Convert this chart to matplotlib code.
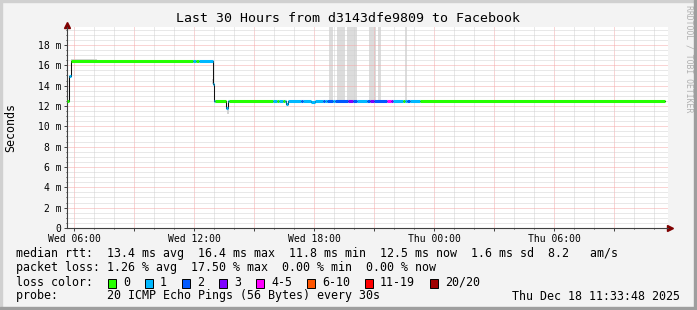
import matplotlib
matplotlib.use("Agg")
import matplotlib.pyplot as plt
from matplotlib.patches import Rectangle
import numpy as np

plt.rcParams['font.family'] = ['DejaVu Sans Mono']

W, H = 697, 310

# median rtt in ms, step value that starts at each time (hours since Wed 00:00)
rtt_t = [5.65, 5.75, 5.825, 12.925, 13.0, 13.6, 13.7, 16.6, 16.7, 17.85, 18.05, 35.55]
rtt_ms = [12.5, 14.9, 16.4, 14.2, 12.5, 11.8, 12.5, 12.2, 12.5, 12.35, 12.5, 12.5]

# packet loss level (index into loss colours) starting at each time
loss_t = [5.65, 5.75, 5.825, 11.95, 12.1, 12.25, 13.025, 13.6, 13.725,
          15.95, 16.15, 16.25, 16.45, 16.55, 17.35, 17.45, 18.45, 18.55,
          18.65, 18.95, 19.05, 19.7, 19.95, 20.15, 20.65, 20.8, 21.0,
          21.65, 21.85, 21.95, 22.45, 22.55, 22.65, 22.8, 23.3]
loss_lvl = [0, 1, 0, 1, 0, 1, 0, 1, 0,
            1, 0, 1, 0, 1, 2, 1, 2, 1,
            2, 1, 2, 3, 2, 1, 2, 3, 2,
            4, 3, 1, 0, 1, 2, 1, 0]

# smoke (spread of the pings)
smoke_t0 = [5.85, 12.9, 13.65, 18.75, 19.15, 19.65, 20.75, 21.2, 22.55]
smoke_t1 = [7.15, 13.0, 13.725, 18.95, 19.55, 20.15, 21.1, 21.35, 22.65]
smoke_lo = [16.4, 14.2, 11.2, 12.5, 12.5, 12.5, 12.5, 12.5, 12.5]
smoke_hi = [16.62, 14.6, 11.8, 21, 21, 21, 21, 21, 21]

loss_colors = ['#26ff00', '#00b8ff', '#0059ff', '#7e00ff', '#ff00ff', '#ff5500', '#ff0000', '#a00000']
loss_labels = ['0', '1', '2', '3', '4-5', '6-10', '11-19', '20/20']

xtick_hours = [6, 12, 18, 24, 30]
xtick_labels = ['Wed 06:00', 'Wed 12:00', 'Wed 18:00', 'Thu 00:00', 'Thu 06:00']
ytick_vals = [0, 2, 4, 6, 8, 10, 12, 14, 16, 18]
ytick_labels = ['0', '2 m', '4 m', '6 m', '8 m', '10 m', '12 m', '14 m', '16 m', '18 m']


def fx(px):
    return px / W


def fy(py):
    return 1 - py / H


fig = plt.figure(figsize=(W / 100, H / 100), dpi=100, facecolor='#f3f3f3')
ax = fig.add_axes([fx(67), fy(228), (668 - 67) / W, (228 - 27) / H])
ax.set_facecolor('white')

# smoke
for a, b, lo, hi in zip(smoke_t0, smoke_t1, smoke_lo, smoke_hi):
    shade = '#dcdcdc' if hi > 20 else '#d4d4d4'
    ax.fill_between([a, b], lo, hi, color=shade, lw=0, zorder=1)

# thin black median, then colored by loss
ax.step(rtt_t, rtt_ms, where='post', color='#111111', lw=0.75, zorder=2.5)


def median_at(t):
    i = np.searchsorted(rtt_t, t, side='right') - 1
    return rtt_ms[i]


ends = loss_t[1:] + [rtt_t[-1]]
for t0, t1, lvl in zip(loss_t, ends, loss_lvl):
    cuts = [t0] + [t for t in rtt_t if t0 < t < t1] + [t1]
    for a, b in zip(cuts[:-1], cuts[1:]):
        ax.hlines(median_at(a), a, b, colors=loss_colors[lvl], lw=2.2, zorder=3)

ax.set_xlim(5.65, 35.7)
ax.set_ylim(0, 19.76)

# x axis: red every 3h, gray every 1h, label every 6h
maj = np.arange(6, 36, 3)
ax.set_xticks(maj)
ax.set_xticklabels([xtick_labels[xtick_hours.index(h)] if h in xtick_hours else '' for h in maj])
ax.set_xticks(np.arange(6, 36, 1), minor=True)
ax.set_yticks(ytick_vals)
ax.set_yticklabels(ytick_labels)
ax.set_yticks(np.arange(0, 19.76, 0.5), minor=True)

ax.grid(which='major', color='#f4aaaa', lw=0.72, ls=(0, (1, 1)))
ax.grid(which='minor', color='#d2d2d2', lw=0.72, ls=(0, (1, 1)))
ax.tick_params(which='major', length=2, width=0.7, color='#404040', pad=2.2, labelsize=7)
ax.tick_params(which='minor', length=1, width=0.7, color='#404040')

for s in ['top', 'right']:
    ax.spines[s].set_visible(False)
for s in ['left', 'bottom']:
    ax.spines[s].set_color('#404040')
    ax.spines[s].set_linewidth(0.8)

ax.plot([1.004], [0], marker='>', ms=4, color='#7f0000', transform=ax.transAxes, clip_on=False)
ax.plot([0], [1.012], marker='^', ms=4, color='#7f0000', transform=ax.transAxes, clip_on=False)

# titles and side texts
fig.text(fx(348), fy(19), 'Last 30 Hours from d3143dfe9809 to Facebook',
         ha='center', va='center', fontsize=9.5)
fig.text(fx(11), fy(127), 'Seconds', rotation=90, ha='center', va='center', fontsize=8.4)
fig.text(fx(689), fy(5), 'RRDTOOL / TOBI OETIKER', rotation=270, ha='center', va='top',
         fontsize=5.9, color='#b0b0b0')

# legend
fs = 8.4
fig.text(fx(16), fy(254), 'median rtt:  13.4 ms avg  16.4 ms max  11.8 ms min  12.5 ms now  1.6 ms sd  8.2   am/s',
         va='center', fontsize=fs)
fig.text(fx(16), fy(268), 'packet loss: 1.26 % avg  17.50 % max  0.00 % min  0.00 % now',
         va='center', fontsize=fs)
fig.text(fx(16), fy(282), 'loss color:', va='center', fontsize=fs)
x = 108
for col, lab in zip(loss_colors, loss_labels):
    fig.add_artist(Rectangle((fx(x), fy(288)), 8 / W, 9 / H, facecolor=col,
                             edgecolor='black', lw=0.7, transform=fig.transFigure))
    fig.text(fx(x + 15), fy(282), lab, va='center', fontsize=fs)
    x += 15 + 7 * len(lab) + 15
fig.text(fx(16), fy(296), 'probe:       20 ICMP Echo Pings (56 Bytes) every 30s',
         va='center', fontsize=fs)
fig.text(fx(680), fy(296), 'Thu Dec 18 11:33:48 2025', ha='right', va='center', fontsize=fs)

# frame around the image
fig.add_artist(Rectangle((0, 1 - 2 / H), 1, 2 / H, color='#d0d0d0', transform=fig.transFigure))
fig.add_artist(Rectangle((0, 0), 2 / W, 1, color='#d0d0d0', transform=fig.transFigure))
fig.add_artist(Rectangle((0, 0), 1, 3 / H, color='#9e9e9e', transform=fig.transFigure))
fig.add_artist(Rectangle((1 - 3 / W, 0), 3 / W, 1, color='#9e9e9e', transform=fig.transFigure))

fig.savefig('out.png', dpi=100, facecolor=fig.get_facecolor())
